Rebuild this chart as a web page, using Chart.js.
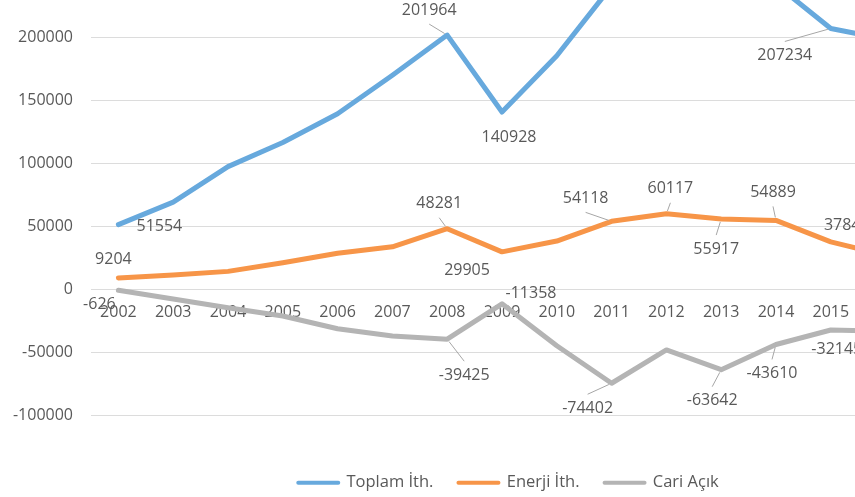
<!DOCTYPE html>
<html>
<head>
<meta charset="utf-8">
<script src="https://cdn.jsdelivr.net/npm/chart.js@4/dist/chart.umd.min.js"></script>
<style>
  html, body { margin: 0; padding: 0; background: #ffffff; overflow: hidden; width: 855px; height: 497px; }
  #wrap { position: absolute; left: 0px; top: -116px; width: 1038px; height: 617px; }
</style>
</head>
<body>
<div id="wrap"><canvas id="c"></canvas></div>
<script>
// ---- data ----
const years = ['2002','2003','2004','2005','2006','2007','2008','2009','2010','2011','2012','2013','2014','2015','2016'];
const toplamIth = [51554, 69340, 97540, 116774, 139576, 170063, 201964, 140928, 185544, 240842, 236545, 251661, 242177, 207234, 198618];
const enerjiIth = [9204, 11575, 14407, 21255, 28859, 33883, 48281, 29905, 38497, 54118, 60117, 55917, 54889, 37843, 27169];
const cariAcik  = [-626, -7515, -14431, -20980, -31168, -36949, -39425, -11358, -44616, -74402, -47963, -63642, -43610, -32145, -33137];
const seriesNames = ['Toplam İth.', 'Enerji İth.', 'Cari Açık'];

// ---- data label placement (dataset, index, offset from point, leader line) ----
const labelPlacement = [
  {ds:0, i:0,  dx:41,  dy:2,   leader:false},
  {ds:0, i:6,  dx:-18, dy:-25, leader:true},
  {ds:0, i:7,  dx:7,   dy:25,  leader:false},
  {ds:0, i:13, dx:-46, dy:27,  leader:true},
  {ds:1, i:0,  dx:-5,  dy:-18, leader:false},
  {ds:1, i:6,  dx:-8,  dy:-25, leader:true},
  {ds:1, i:7,  dx:-35, dy:19,  leader:false},
  {ds:1, i:9,  dx:-26, dy:-23, leader:true},
  {ds:1, i:10, dx:4,   dy:-25, leader:true},
  {ds:1, i:11, dx:-5,  dy:30,  leader:true},
  {ds:1, i:12, dx:-3,  dy:-28, leader:true},
  {ds:1, i:13, dx:16,  dy:-16, leader:false},
  {ds:2, i:0,  dx:-19, dy:14,  leader:false},
  {ds:2, i:7,  dx:29,  dy:-10, leader:false},
  {ds:2, i:6,  dx:17,  dy:36,  leader:true},
  {ds:2, i:9,  dx:-24, dy:25,  leader:true},
  {ds:2, i:11, dx:-9,  dy:31,  leader:true},
  {ds:2, i:12, dx:-4,  dy:29,  leader:true},
  {ds:2, i:13, dx:6,   dy:19,  leader:false}
];

const FONT = '"Open Sans"';
const TXT = '#595959';
const colors = ['#67A9DD', '#F79548', '#B4B4B4'];

const dataLabels = {
  id: 'dataLabels',
  afterDatasetsDraw(chart) {
    const ctx = chart.ctx;
    ctx.save();
    ctx.font = '16px ' + FONT;
    ctx.textAlign = 'center';
    ctx.textBaseline = 'middle';
    labelPlacement.forEach(p => {
      const el = chart.getDatasetMeta(p.ds).data[p.i];
      const v = chart.data.datasets[p.ds].data[p.i];
      const cx = el.x + p.dx, cy = el.y + p.dy;
      if (p.leader) {
        const sy = p.dy < 0 ? cy + 14 : cy - 14;
        const vx = el.x - cx, vy = el.y - sy;
        const len = Math.hypot(vx, vy);
        const ex = el.x - vx / len * 3, ey = el.y - vy / len * 3;
        ctx.strokeStyle = '#A6A6A6';
        ctx.lineWidth = 1;
        ctx.beginPath();
        ctx.moveTo(cx, sy);
        ctx.lineTo(ex, ey);
        ctx.stroke();
      }
      ctx.fillStyle = TXT;
      ctx.fillText(String(v), cx, cy);
    });
    ctx.restore();
  }
};

const mkDs = (label, data, color) => ({
  label, data,
  borderColor: color, backgroundColor: color,
  borderWidth: 5, pointRadius: 0, pointHoverRadius: 0,
  tension: 0, borderJoinStyle: 'round', borderCapStyle: 'round',
  xAxisID: 'x', yAxisID: 'y'
});

new Chart(document.getElementById('c'), {
  type: 'line',
  data: {
    labels: years,
    datasets: [
      mkDs(seriesNames[0], toplamIth, colors[0]),
      mkDs(seriesNames[1], enerjiIth, colors[1]),
      mkDs(seriesNames[2], cariAcik, colors[2])
    ]
  },
  options: {
    responsive: true,
    maintainAspectRatio: false,
    devicePixelRatio: 1,
    animation: false,
    layout: { padding: { top: 20, left: 0, right: 21, bottom: 0 } },
    scales: {
      x: {
        type: 'category',
        position: { y: 0 },
        offset: true,
        grid: { display: false, drawTicks: false },
        border: { display: false },
        ticks: { color: TXT, font: { family: FONT, size: 16 }, padding: 13, maxRotation: 0, autoSkip: false }
      },
      y: {
        type: 'linear',
        position: 'left',
        min: -100000, max: 300000,
        grid: { color: '#DCDCDC', lineWidth: 1, drawTicks: false },
        border: { display: false },
        ticks: { stepSize: 50000, color: TXT, font: { family: FONT, size: 16 }, padding: 18,
                 callback: v => String(v) },
        afterFit(s) { s.width = 91; }
      },
      ypad: {
        type: 'linear', axis: 'y', position: 'right', display: true,
        grid: { display: false, drawTicks: false }, border: { display: false },
        ticks: { display: false },
        afterFit(s) { s.width = 104; }
      },
      xpad: {
        type: 'linear', axis: 'x', position: 'bottom', display: true,
        grid: { display: false, drawTicks: false }, border: { display: false },
        ticks: { display: false },
        afterFit(s) { s.height = 34; }
      }
    },
    plugins: {
      tooltip: { enabled: false },
      legend: {
        position: 'bottom',
        labels: {
          color: TXT,
          font: { family: FONT, size: 16.5 },
          boxWidth: 40, boxHeight: 0, padding: 25,
          generateLabels(chart) {
            const items = Chart.defaults.plugins.legend.labels.generateLabels(chart);
            items.forEach(it => { it.fillStyle = it.strokeStyle; it.lineWidth = 4; it.lineJoin = 'round'; it.lineCap = 'round'; });
            return items;
          }
        }
      }
    }
  },
  plugins: [dataLabels]
});
</script>
</body>
</html>
